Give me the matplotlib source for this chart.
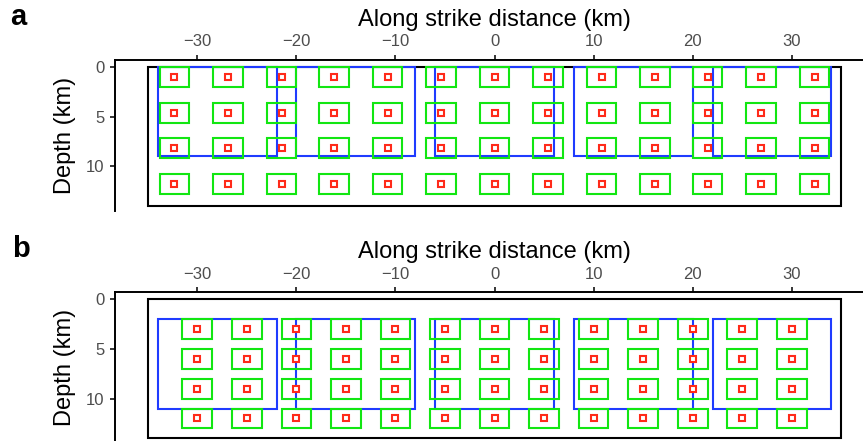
import matplotlib
matplotlib.use("Agg")
import matplotlib.pyplot as plt
from matplotlib.patches import Rectangle

plt.rcParams['font.family'] = ['Liberation Sans', 'DejaVu Sans']

# model domain (km)
domain_x = [-35, 35]
domain_depth = [0, 14]

# fault segments: along-strike start/end, depth top/bottom per panel
seg_start = [-34, -20, -6, 8, 22]
seg_end = [-22, -8, 6, 20, 34]
seg_top = {"a": 0, "b": 2}
seg_bottom = {"a": 9, "b": 11}

# subfault centres
sub_x_a = [-32.3, -26.9, -21.5, -16.2, -10.8, -5.4, 0.0, 5.4, 10.8, 16.2, 21.5, 26.9, 32.3]
sub_depth_a = [1.0, 4.6, 8.2, 11.8]
sub_x_b = [-30, -25, -20, -15, -10, -5, 0, 5, 10, 15, 20, 25, 30]
sub_depth_b = [3, 6, 9, 12]

xticks = [-30, -20, -10, 0, 10, 20, 30]
yticks = [0, 5, 10]

# subfault patch size (km)
SUB_W = 3.0
SUB_H = 2.0

BLUE = '#1f3bff'
GREEN = '#12e612'
RED = '#ff2a1a'

fig = plt.figure(figsize=(8.63, 4.41), dpi=100)
ax_a = fig.add_axes([0.1333, 0.5215, 0.8795, 0.3424])
ax_b = fig.add_axes([0.1333, -0.0052, 0.8795, 0.3424])


def draw_panel(ax, key, sub_x, sub_depth):
    # outer domain
    ax.add_patch(Rectangle((domain_x[0], domain_depth[0]),
                           domain_x[1] - domain_x[0], domain_depth[1] - domain_depth[0],
                           fill=False, ec='black', lw=1.5, zorder=1))
    # segments
    for s, e in zip(seg_start, seg_end):
        ax.add_patch(Rectangle((s, seg_top[key]), e - s, seg_bottom[key] - seg_top[key],
                               fill=False, ec=BLUE, lw=1.5, zorder=2))
    # subfaults + centres
    for d in sub_depth:
        for x in sub_x:
            ax.add_patch(Rectangle((x - SUB_W / 2, d - SUB_H / 2), SUB_W, SUB_H,
                                   fill=False, ec=GREEN, lw=1.5, zorder=3))
        ax.plot(sub_x, [d] * len(sub_x), ls='none', marker='s', ms=4,
                mfc='white', mec=RED, mew=1.5, zorder=4)

    ax.set_xlim(-38.3, 38.3)
    ax.set_ylim(14.5, -0.7)
    ax.xaxis.set_ticks_position('top')
    ax.xaxis.set_label_position('top')
    ax.set_xticks(xticks)
    ax.set_yticks(yticks)
    for side in ['right', 'bottom']:
        ax.spines[side].set_visible(False)
    for side in ['left', 'top']:
        ax.spines[side].set_linewidth(1.4)
    ax.tick_params(length=3.6, width=1.1, color='black', labelcolor='#4d4d4d',
                   labelsize=12, pad=4)
    ax.set_xlabel('Along strike distance (km)', fontsize=17, labelpad=6)
    ax.set_ylabel('Depth (km)', fontsize=17, labelpad=7)
    ax.set_facecolor('none')


draw_panel(ax_a, "a", sub_x_a, sub_depth_a)
draw_panel(ax_b, "b", sub_x_b, sub_depth_b)

fig.text(10 / 863, 1 - 25 / 441, 'a', fontsize=21, fontweight='bold', va='baseline')
fig.text(12 / 863, 1 - 257 / 441, 'b', fontsize=21, fontweight='bold', va='baseline')

fig.savefig('out.png', dpi=100)
